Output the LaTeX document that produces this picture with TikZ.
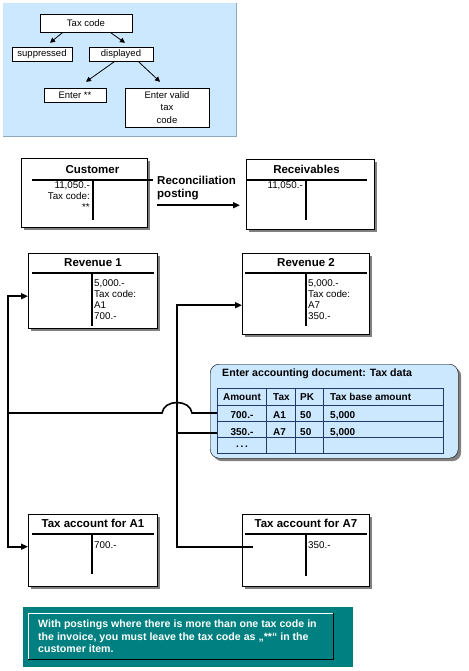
\documentclass[tikz,border=0pt]{standalone}
\usepackage{fontspec}
\setmainfont{Liberation Sans}
\usetikzlibrary{arrows.meta,calc,shadows}
\definecolor{panelblue}{HTML}{CCE8FF}
\definecolor{paneledge}{HTML}{8FA8C0}
\definecolor{gridnavy}{HTML}{1F3A70}
\definecolor{noteteal}{HTML}{008080}
\definecolor{shadowgrey}{HTML}{808080}
\tikzset{choice/.style={rectangle,draw,fill=white,inner sep=1pt,font=\fontsize{9.5}{12.5}\selectfont,align=center},account/.style={rectangle,draw,fill=white,anchor=north west,drop shadow={shadow xshift=3pt,shadow yshift=-3pt,fill=shadowgrey,opacity=1}},acctitle/.style={anchor=base,inner sep=0,font=\fontsize{11.5}{13}\selectfont\bfseries},entry/.style={inner sep=0,font=\fontsize{9.8}{11}\selectfont},cell/.style={anchor=base west,inner sep=0,font=\fontsize{10}{12}\selectfont\bfseries},tline/.style={line width=1.4pt},link/.style={line width=1.6pt},post/.style={link,-{Triangle[length=7pt,width=6pt]}},pick/.style={line width=.8pt,-{Triangle[length=5pt,width=5pt]}}}
\begin{document}
\begin{tikzpicture}[x=1pt,y=-1pt]
\useasboundingbox (0,0) rectangle (468,671);
\fill[panelblue] (3,3) rectangle (236,137);
\draw[paneledge,line width=1pt] (3,137) -| (236,3);
\node[choice,minimum width=92pt,minimum height=18pt] (taxcode) at (86,23) {Tax code};
\node[choice,minimum width=60pt,minimum height=14pt] (suppr) at (42,54) {suppressed};
\node[choice,minimum width=64pt,minimum height=14pt] (displ) at (121,54) {displayed};
\node[choice,minimum width=62pt,minimum height=14pt] (enterst) at (75,95) {Enter **};
\node[choice,minimum width=84pt,minimum height=39pt] (entervalid) at (167,107.5) {Enter valid\\tax\\code};
\draw[pick] ([xshift=-23pt]taxcode.south) -- ([xshift=8pt,yshift=4pt]suppr.north);
\draw[pick] ([xshift=24pt]taxcode.south) -- ([xshift=4pt,yshift=4pt]displ.north);
\draw[pick] ([xshift=-6pt]displ.south) -- ([xshift=11pt,yshift=6pt]enterst.north);
\draw[pick] ([xshift=17pt]displ.south) -- ([xshift=-7pt,yshift=6pt]entervalid.north);
\foreach \n/\l/\t/\w/\h/\title/\hy/\hl/\hr/\vx/\vb in {cust/21/158/126/69/Customer/180/32/153/93/220,recv/246/159/128/70/Receivables/180/246/367/306/220,rev1/28/253/129/75/Revenue 1/273/32/154/92/326,rev2/242/253/127/81/Revenue 2/273/245/367/306/326,taxa1/28/514/129/72/Tax account for A1/534/32/154/92/574,taxa7/242/514/127/72/Tax account for A7/534/245/367/306/576}{
\node[account,minimum width=\w pt,minimum height=\h pt] (\n) at (\l,\t) {};
\node[acctitle] (\n-title) at ({(\hl+\hr)/2},\hy-7) {\title};
\draw[tline] (\hl,\hy) -- (\hr,\hy) (\vx,\hy) -- (\vx,\vb);
}
\node[entry,anchor=north east,align=right] (cust-debit) at (90,181) {11,050.-\\Tax code:\\**};
\node[entry,anchor=north east] (recv-debit) at (303,181) {11,050.-};
\node[entry,anchor=north west,align=left] (rev1-credit) at (94,279) {5,000.-\\Tax code:\\A1\\700.-};
\node[entry,anchor=north west,align=left] (rev2-credit) at (308,279) {5,000.-\\Tax code:\\A7\\350.-};
\node[entry,anchor=north west] (taxa1-credit) at (94,541) {700.-};
\node[entry,anchor=north west] (taxa7-credit) at (308,541) {350.-};
\node[anchor=north west,inner sep=0,align=left,font=\fontsize{11.5}{12.5}\selectfont\bfseries] (reclabel) at (157,176) {Reconciliation\\posting};
\draw[post] ([xshift=10pt,yshift=-12.5pt]cust.east) -- ([xshift=-6pt,yshift=-11pt]recv.west);
\node[rectangle,draw,rounded corners=9pt,fill=panelblue,minimum width=248pt,minimum height=94pt,anchor=north west,drop shadow={shadow xshift=3pt,shadow yshift=-3pt,fill=shadowgrey,opacity=1}] (taxdoc) at (210,364) {};
\node[cell,font=\fontsize{10.6}{12}\selectfont\bfseries] (taxdoc-title) at (222,376) {Enter accounting document: Tax data};
\draw[gridnavy,line width=1pt] (217,388) rectangle (443,453);
\foreach \y in {405,421,437}{\draw[gridnavy,line width=1pt] (217,\y) -- (443,\y);}
\foreach \x in {266,295,323}{\draw[gridnavy,line width=1pt] (\x,388) -- (\x,453);}
\foreach \r/\y/\a/\b/\c/\d in {hd/400/Amount/Tax/PK/Tax base amount,r1/418/700.-/A1/50/{5,000},r2/435/350.-/A7/50/{5,000}}{
\node[cell,anchor=base] (\r-amt) at (242,\y) {\a};
\node[cell] (\r-tax) at (273,\y) {\b};
\node[cell] (\r-pk) at (300,\y) {\c};
\node[cell] (\r-base) at (330,\y) {\d};
}
\node[cell,anchor=base] (r3-amt) at (242,447) {.\,.\,.};
\node[inner sep=0,minimum width=226pt] (row1) at (330,413) {};
\node[inner sep=0,minimum width=226pt] (row2) at (330,433) {};
\coordinate (j1) at (8,413);
\coordinate (j2) at (177,433);
\draw[link] (row1.west) -- (192,413) .. controls (190,399) and (164,399) .. (162,413) -- (j1);
\draw[post] (j1) |- ([yshift=-5.5pt]rev1.west);
\draw[post] (j1) |- ([yshift=3.5pt]taxa1.west);
\draw[link] (row2.west) -- (j2);
\draw[post] (j2) |- ([yshift=-11.5pt]rev2.west);
\draw[link] (j2) |- ([xshift=11pt,yshift=3pt]taxa7.west);
\fill[noteteal] (23,607) rectangle (353,667);
\draw[white,line width=1pt] (28,659) |- (333,613);
\draw[black,line width=1pt] (28,659) -| (333,613);
\node[anchor=north west,inner sep=0,align=left,text=white,font=\fontsize{10.6}{12.3}\selectfont\bfseries] (note) at (38,620) {With postings where there is more than one tax code in\\the invoice, you must leave the tax code as „**“ in the\\customer item.};
\end{tikzpicture}
\end{document}
